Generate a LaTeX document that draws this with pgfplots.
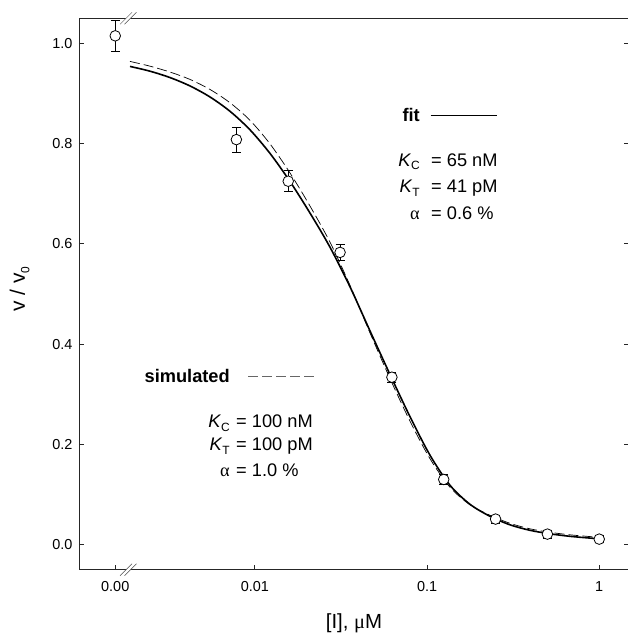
\documentclass[border=0pt]{standalone}
\usepackage{fontspec}
\setmainfont{Liberation Sans}
\newfontfamily\greekfont{Liberation Serif}
\usepackage{pgfplots}
\usepackage{pgfplotstable}
\pgfplotsset{compat=1.18}
\usetikzlibrary{calc}

\pgfplotstableread{
c v e
0.001546 1.015 0.031
0.0078125 0.808 0.025
0.015625 0.725 0.021
0.03125 0.583 0.016
0.0625 0.334 0.010
0.125 0.130 0.010
0.25 0.051 0.008
0.5 0.021 0.008
1 0.011 0.007
}\datatable

\pgfplotstableread{
c v
0.001883 0.9540
0.002459 0.9445
0.003213 0.9318
0.004197 0.9151
0.005485 0.8931
0.007166 0.8646
0.009365 0.8276
0.012237 0.7806
0.015991 0.7246
0.020893 0.6616
0.027296 0.5936
0.035663 0.5146
0.046600 0.4266
0.060897 0.3396
0.079560 0.2556
0.10394 0.1786
0.13583 0.1186
0.17743 0.0806
0.23184 0.0566
0.30299 0.0396
0.39588 0.0286
0.51727 0.0216
0.67562 0.0166
0.88306 0.0131
1.0 0.0117
}\fittable

\pgfplotstableread{
c v
0.001883 0.9640
0.002459 0.9545
0.003213 0.9428
0.004197 0.9281
0.005485 0.9081
0.007166 0.8816
0.009365 0.8466
0.012237 0.7996
0.015991 0.7416
0.020893 0.6756
0.027296 0.6036
0.035663 0.5176
0.046600 0.4226
0.060897 0.3316
0.079560 0.2466
0.10394 0.1716
0.13583 0.1146
0.17743 0.0796
0.23184 0.0586
0.30299 0.0426
0.39588 0.0316
0.51727 0.0246
0.67562 0.0196
0.88306 0.0161
1.0 0.0147
}\simtable

\newcommand{\lf}{\fontsize{18.3}{21}\selectfont}
\newcommand{\sub}[1]{\raisebox{-0.4ex}{\fontsize{12}{12}\selectfont #1}}

\begin{document}
\begin{tikzpicture}
\begin{axis}[
  scale only axis, width=550bp, height=551.4bp,
  xmode=log, xmin=0.000952, xmax=1.489,
  ymin=-0.05, ymax=1.05,
  xtick={0.001546,0.01,0.1,1}, xticklabels={0.00,0.01,0.1,1},
  ytick={0,0.2,0.4,0.6,0.8,1.0}, yticklabels={0.0,0.2,0.4,0.6,0.8,1.0},
  minor x tick num=0,
  xtick pos=left, ytick pos=both,
  tick align=inside,
  major tick length=5bp,
  clip=false,
  axis line style={line width=0.8bp, black!85},
  tick style={line width=0.8bp, black!85},
  tick label style={font=\fontsize{14.5}{16}\selectfont},
  xticklabel style={yshift=-8bp},
  yticklabel style={xshift=-3bp},
]
\addplot[black, line width=1.6bp, smooth] table[x=c,y=v]{\fittable};
\addplot[black, line width=0.7bp, smooth, dash pattern=on 10bp off 4bp] table[x=c,y=v]{\simtable};
\addplot[only marks, mark=*, mark size=5.3bp,
  mark options={fill=white, draw=black, line width=0.8bp},
  error bars/.cd, y dir=both, y explicit,
  error bar style={line width=0.8bp, black},
  error mark options={rotate=90, mark size=4.5bp, line width=0.8bp, black}]
  table[x=c,y=v,y error=e]{\datatable};

% axis break marks (bottom)
\fill[white] ($(rel axis cs:0.0896,0)+(-8.2bp,-6bp)$) -- ($(rel axis cs:0.0896,0)+(3.8bp,6bp)$)
   -- ($(rel axis cs:0.0896,0)+(8.2bp,6bp)$) -- ($(rel axis cs:0.0896,0)+(-3.8bp,-6bp)$) -- cycle;
\draw[black!70, line width=0.5bp] ($(rel axis cs:0.0896,0)+(-8.2bp,-6bp)$) -- ($(rel axis cs:0.0896,0)+(3.8bp,6bp)$);
\draw[black!70, line width=0.5bp] ($(rel axis cs:0.0896,0)+(-3.8bp,-6bp)$) -- ($(rel axis cs:0.0896,0)+(8.2bp,6bp)$);
% axis break marks (top)
\fill[white] ($(rel axis cs:0.0896,1)+(-8.2bp,-6bp)$) -- ($(rel axis cs:0.0896,1)+(3.8bp,6bp)$)
   -- ($(rel axis cs:0.0896,1)+(8.2bp,6bp)$) -- ($(rel axis cs:0.0896,1)+(-3.8bp,-6bp)$) -- cycle;
\draw[black!70, line width=0.5bp] ($(rel axis cs:0.0896,1)+(-8.2bp,-6bp)$) -- ($(rel axis cs:0.0896,1)+(3.8bp,6bp)$);
\draw[black!70, line width=0.5bp] ($(rel axis cs:0.0896,1)+(-3.8bp,-6bp)$) -- ($(rel axis cs:0.0896,1)+(8.2bp,6bp)$);

% axis labels
\node[rotate=90, anchor=base, font=\fontsize{21}{23}\selectfont] at (rel axis cs:-0.0982,0.5085) {v / v\sub{0}};
\node[anchor=base, font=\fontsize{20.5}{22}\selectfont] at (rel axis cs:0.5,-0.1075) {[I], {\greekfont μ}M};

% fit annotation
\node[anchor=base east, font=\lf\bfseries, inner sep=0] at (rel axis cs:0.620,0.8125) {fit};
\draw[black, line width=1.3bp] (rel axis cs:0.6395,0.8233) -- (rel axis cs:0.7595,0.8233);
\node[anchor=base east, font=\lf, inner sep=0] at (rel axis cs:0.620,0.7321) {\textit{K}\sub{C}};
\node[anchor=base west, font=\lf, inner sep=0] at (rel axis cs:0.640,0.7321) {= 65 nM};
\node[anchor=base east, font=\lf, inner sep=0] at (rel axis cs:0.620,0.6837) {\textit{K}\sub{T}};
\node[anchor=base west, font=\lf, inner sep=0] at (rel axis cs:0.640,0.6837) {= 41 pM};
\node[anchor=base east, font=\lf, inner sep=0] at (rel axis cs:0.620,0.6355) {{\greekfont α}};
\node[anchor=base west, font=\lf, inner sep=0] at (rel axis cs:0.640,0.6355) {= 0.6 \%};

% simulated annotation
\node[anchor=base east, font=\lf\bfseries, inner sep=0] at (rel axis cs:0.2745,0.3391) {simulated};
\draw[black!60, line width=0.7bp, dash pattern=on 10bp off 4bp] (rel axis cs:0.3078,0.3513) -- (rel axis cs:0.4291,0.3513);
\node[anchor=base east, font=\lf, inner sep=0] at (rel axis cs:0.2745,0.2583) {\textit{K}\sub{C}};
\node[anchor=base west, font=\lf, inner sep=0] at (rel axis cs:0.2855,0.2583) {= 100 nM};
\node[anchor=base east, font=\lf, inner sep=0] at (rel axis cs:0.2745,0.2158) {\textit{K}\sub{T}};
\node[anchor=base west, font=\lf, inner sep=0] at (rel axis cs:0.2855,0.2158) {= 100 pM};
\node[anchor=base east, font=\lf, inner sep=0] at (rel axis cs:0.2745,0.1699) {{\greekfont α}};
\node[anchor=base west, font=\lf, inner sep=0] at (rel axis cs:0.2855,0.1699) {= 1.0 \%};
\end{axis}
\pgfresetboundingbox
\useasboundingbox ($(current axis.south west)+(-79bp,-64.3bp)$) rectangle ($(current axis.north east)+(-1bp,18.3bp)$);
\end{tikzpicture}
\end{document}
